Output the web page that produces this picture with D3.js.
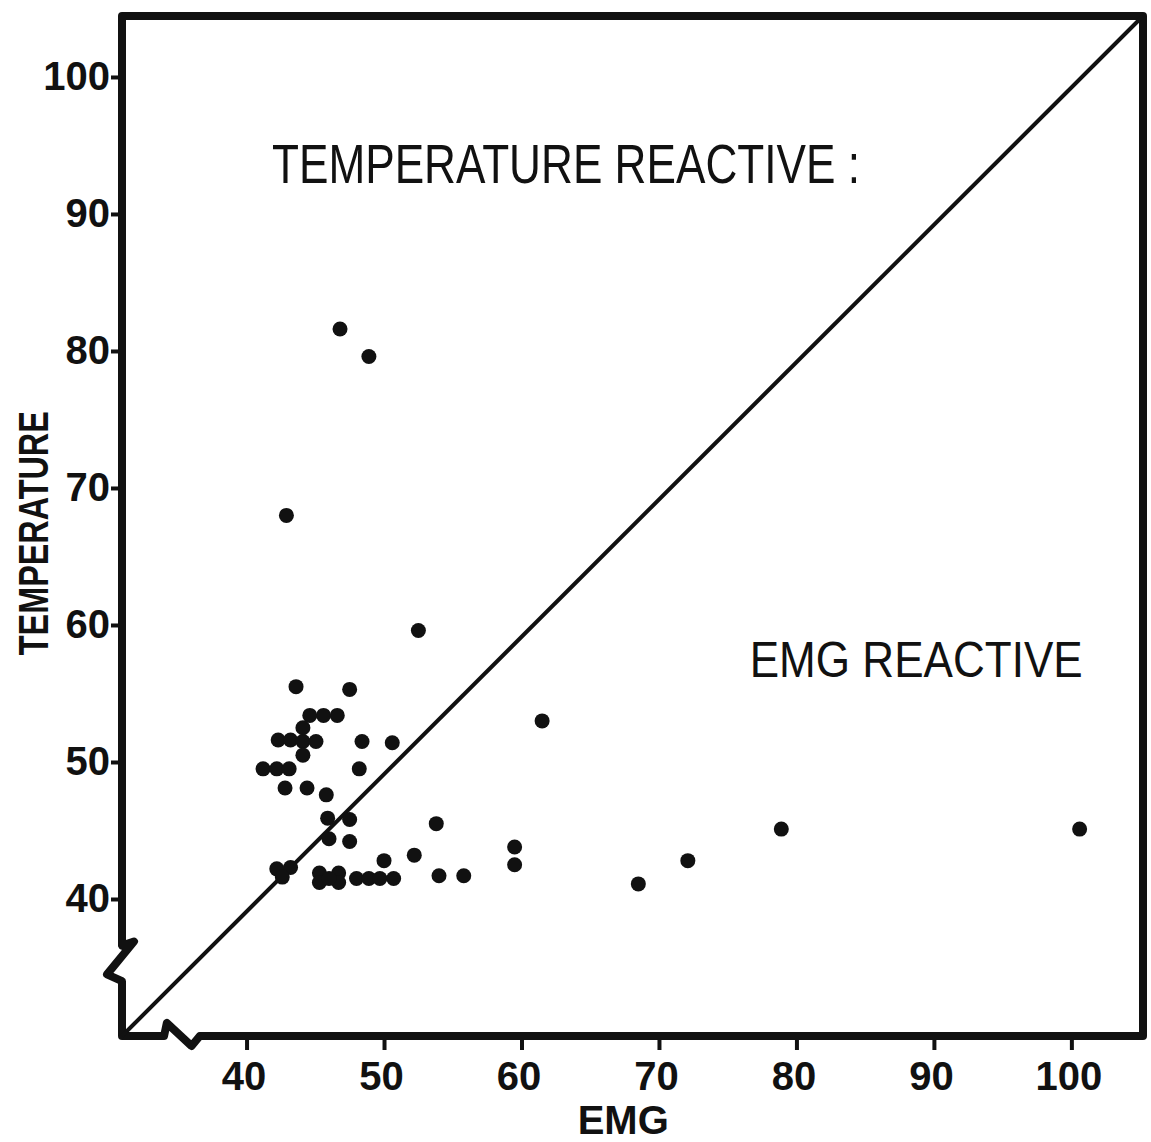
<!DOCTYPE html>
<html>
<head>
<meta charset="utf-8">
<script src="https://cdn.jsdelivr.net/npm/d3@7"></script>
<style>
  body { margin: 0; background: #fff; }
  .scatterChart text { fill: #111; }
</style>
</head>
<body>
<div class="scatterChart"></div>
<script>
// values (EMG vs TEMPERATURE)
const emg = [
  46.8, 48.9, 42.9, 52.5, 43.6, 47.5, 44.6, 45.6, 46.6, 44.1,
  42.3, 43.2, 44.1, 45.05, 44.1, 48.4, 50.6, 41.2, 42.2, 43.1,
  48.2, 42.8, 44.4, 45.8, 45.9, 47.5, 46.0, 47.5, 53.8, 52.2,
  50.0, 59.5, 59.5, 42.2, 43.2, 42.6, 45.3, 46.7, 45.3, 46.7,
  46.0, 48.0, 48.9, 49.7, 50.7, 54.0, 55.8, 61.5, 68.5, 72.1,
  78.9, 100.6
];
const temperature = [
  81.6, 79.6, 68.0, 59.6, 55.5, 55.3, 53.4, 53.4, 53.4, 52.5,
  51.6, 51.6, 51.5, 51.5, 50.5, 51.5, 51.4, 49.5, 49.5, 49.5,
  49.5, 48.1, 48.1, 47.6, 45.9, 45.8, 44.4, 44.2, 45.5, 43.2,
  42.8, 43.8, 42.5, 42.2, 42.3, 41.6, 41.9, 41.9, 41.2, 41.2,
  41.5, 41.5, 41.5, 41.5, 41.5, 41.7, 41.7, 53.0, 41.1, 42.8,
  45.1, 45.1
];
const xTicks = [40, 50, 60, 70, 80, 90, 100];
const yTicks = [40, 50, 60, 70, 80, 90, 100];
const xTitle = "EMG";
const yTitle = "TEMPERATURE";
const regionNames = ["TEMPERATURE REACTIVE :", "EMG REACTIVE"];

const W = 1151, H = 1142;
const margin = {top: 16, right: 8, bottom: 106, left: 122};

const svg = d3.select(".scatterChart").append("svg")
  .attr("width", W).attr("height", H);

const x = d3.scaleLinear().domain([30.94, 105.21])
  .range([margin.left, W - margin.right]);
const y = d3.scaleLinear().domain([30.0, 104.45])
  .range([H - margin.bottom, margin.top]);

const x0 = x.range()[0], x1 = x.range()[1];
const yb = y.range()[0], yt = y.range()[1];

// frame with the axis breaks (zigzags) near the origin
const p = d3.path();
p.moveTo(x0, y(36.6));
p.lineTo(x0, yt);
p.lineTo(x1, yt);
p.lineTo(x1, yb);
p.lineTo(x(36.6), yb);
p.lineTo(x(36.0), yb + 10);
p.lineTo(x(34.2), yb - 13);
p.lineTo(x(34.0), yb);
p.lineTo(x0, yb);
p.lineTo(x0, y(34.0));
p.lineTo(x0 - 15, y(34.5));
p.lineTo(x0 + 12, y(36.9));
p.closePath();
svg.append("path").attr("d", p.toString())
  .attr("fill", "none").attr("stroke", "#111")
  .attr("stroke-width", 8).attr("stroke-linejoin", "round");

// diagonal: equal reactivity
svg.append("line")
  .attr("x1", x(x.domain()[0])).attr("y1", y(y.domain()[0]))
  .attr("x2", x(x.domain()[1])).attr("y2", y(y.domain()[1]))
  .attr("stroke", "#111").attr("stroke-width", 4);

// x axis
const gx = svg.append("g")
  .attr("transform", `translate(0, ${yb + 4})`)
  .call(d3.axisBottom(x).tickValues(xTicks).tickSize(10).tickPadding(12));
gx.select(".domain").remove();
gx.selectAll("line").attr("stroke", "#111").attr("stroke-width", 4);
gx.selectAll("text")
  .attr("dx", -3)
  .style("font-family", "'Liberation Sans', Arial, sans-serif")
  .style("font-weight", "bold").style("font-size", "40px");

// y axis
const gy = svg.append("g")
  .attr("transform", `translate(${x0 - 2}, 0)`)
  .call(d3.axisLeft(y).tickValues(yTicks).tickSize(9).tickPadding(1));
gy.select(".domain").remove();
gy.selectAll("line").attr("stroke", "#111").attr("stroke-width", 4);
gy.selectAll("text")
  .style("font-family", "'Liberation Sans', Arial, sans-serif")
  .style("font-weight", "bold").style("font-size", "40px");

// axis titles
svg.append("text")
  .attr("x", x(67.4)).attr("y", 1134)
  .attr("text-anchor", "middle")
  .style("font-family", "'Liberation Sans', Arial, sans-serif")
  .style("font-weight", "bold").style("font-size", "40px")
  .text(xTitle);

svg.append("text")
  .attr("transform", `translate(48, ${y(66.7)}) rotate(-90)`)
  .attr("text-anchor", "middle")
  .attr("textLength", 244).attr("lengthAdjust", "spacingAndGlyphs")
  .style("font-family", "'Liberation Sans', Arial, sans-serif")
  .style("font-weight", "bold").style("font-size", "43px")
  .text(yTitle);

// region annotations
svg.append("text")
  .attr("x", x(41.85)).attr("y", y(92.26))
  .attr("textLength", 588).attr("lengthAdjust", "spacingAndGlyphs")
  .style("font-family", "'Liberation Sans', Arial, sans-serif")
  .style("font-size", "56px")
  .text(regionNames[0]);

svg.append("text")
  .attr("x", x(76.6)).attr("y", y(56.2))
  .attr("textLength", 333).attr("lengthAdjust", "spacingAndGlyphs")
  .style("font-family", "'Liberation Sans', Arial, sans-serif")
  .style("font-size", "50px")
  .text(regionNames[1]);

// points
svg.append("g").selectAll("circle")
  .data(d3.zip(emg, temperature))
  .join("circle")
  .attr("cx", d => x(d[0]))
  .attr("cy", d => y(d[1]))
  .attr("r", 7.5)
  .attr("fill", "#111");
</script>
</body>
</html>
